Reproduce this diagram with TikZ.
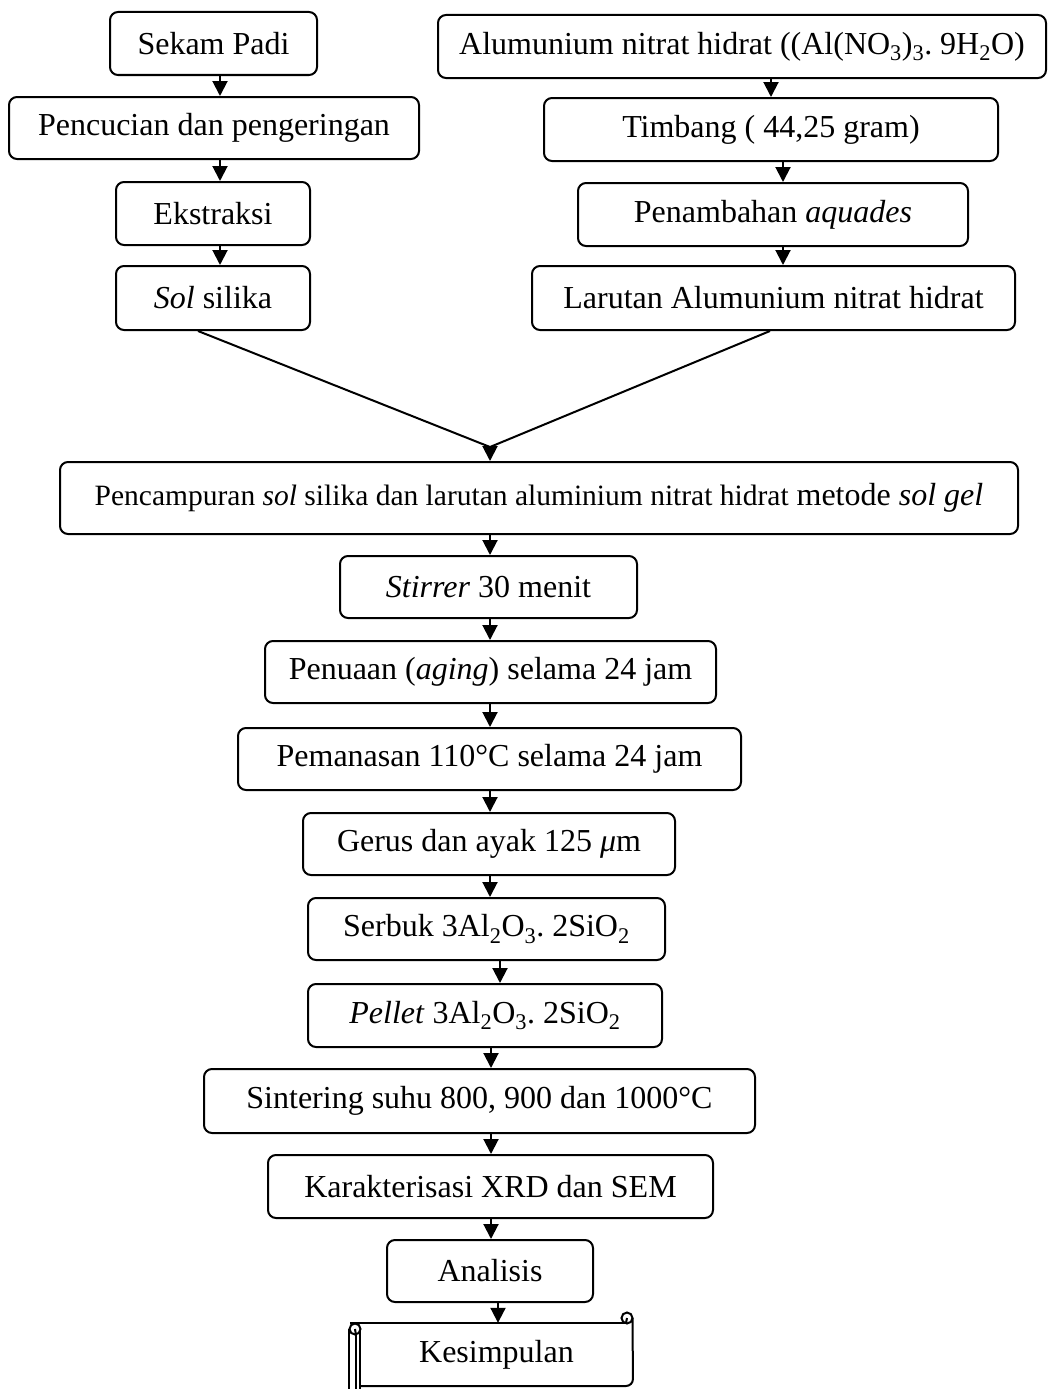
\documentclass[tikz,border=0pt]{standalone}
\usepackage{fontspec}
\setmainfont{Liberation Serif}
\usetikzlibrary{arrows.meta}
\frenchspacing
\newcommand\fsz{\fontsize{32}{38}\selectfont}
\newcommand\fsm{\fontsize{29.5}{35}\selectfont}
\newcommand\sub[1]{\textsubscript{#1}}
\tikzset{
  box/.style={draw, rounded corners=8pt, line width=2pt, inner sep=0pt, align=center, font=\fsz},
  arr/.style={line width=2pt, -{Triangle[width=15pt,length=15pt]}},
  ln/.style={line width=2pt},
}
\begin{document}
\begin{tikzpicture}[x=1pt,y=-1pt]
\useasboundingbox (0,0) rectangle (1049,1389);
% left column
\node[box, minimum width=207, minimum height=63] (sekam) at (213.5,43.5) {Sekam Padi};
\node[box, minimum width=410, minimum height=62] (cuci) at (214,128) {Pencucian dan pengeringan};
\node[box, minimum width=194, minimum height=63] (ekst) at (213,213.5) {Ekstraksi};
\node[box, minimum width=194, minimum height=64] (sol) at (213,298) {\textit{Sol} silika};
% right column
\node[box, minimum width=608, minimum height=63] (alum) at (742,46.5) {Alumunium nitrat hidrat ((Al(NO\sub{3})\sub{3}. 9H\sub{2}O)};
\node[box, minimum width=454, minimum height=63] (timb) at (771,129.5) {Timbang ( 44,25 gram)};
\node[box, minimum width=390, minimum height=63] (aqua) at (773,214.5) {Penambahan \textit{aquades}};
\node[box, minimum width=483, minimum height=64] (laru) at (773.5,298) {Larutan Alumunium nitrat hidrat};
% main column
\node[box, minimum width=958, minimum height=72] (camp) at (539,498) {{\fsm Pencampuran \textit{sol} silika dan larutan aluminium nitrat hidrat} metode \textit{sol gel}};
\node[box, minimum width=297, minimum height=62] (stir) at (488.5,587) {\textit{Stirrer} 30 menit};
\node[box, minimum width=451, minimum height=62] (tua) at (490.5,672) {Penuaan (\textit{aging}) selama 24 jam};
\node[box, minimum width=503, minimum height=62] (panas) at (489.5,759) {Pemanasan 110°C selama 24 jam};
\node[box, minimum width=372, minimum height=62] (gerus) at (489,844) {Gerus dan ayak 125 \textit{μ}m};
\node[box, minimum width=357, minimum height=62] (serb) at (486.5,929) {Serbuk 3Al\sub{2}O\sub{3}. 2SiO\sub{2}};
\node[box, minimum width=354, minimum height=63] (pell) at (485,1015.5) {\textit{Pellet} 3Al\sub{2}O\sub{3}. 2SiO\sub{2}};
\node[box, minimum width=551, minimum height=64] (sint) at (479.5,1101) {Sintering suhu 800, 900 dan 1000°C};
\node[box, minimum width=445, minimum height=63] (kar) at (490.5,1186.5) {Karakterisasi XRD dan SEM};
\node[box, minimum width=206, minimum height=62] (anal) at (490,1271) {Analisis};
\node[inner sep=0pt, minimum width=273, minimum height=63, font=\fsz] (kes) at (496.5,1354.5) {Kesimpulan};
% scroll shape around Kesimpulan
\draw[ln] (350,1323) -- (626,1323);
\draw[ln] (627,1318) circle (5.5);
\draw[ln] (626,1323) -- (627,1318);
\draw[ln, rounded corners=7pt] (632.5,1318) -- (633,1386) -- (360,1386);
\draw[ln] (360,1331) -- (360,1389);
\draw[ln] (356,1335) -- (356,1389);
\draw[ln] (349,1329) -- (349,1389);
\draw[ln] (355,1329) circle (5.5);
\draw[ln] (355,1329) -- (356,1335);
% column coordinates
\coordinate (xa) at (220,0);
\coordinate (xb1) at (771,0);
\coordinate (xb2) at (783,0);
\coordinate (xc) at (490,0);
\coordinate (xc6) at (500,0);
\coordinate (xc7) at (491,0);
\coordinate (xc10) at (498,0);
\coordinate (m) at (490,447);
\coordinate (sl) at (198,0);
\coordinate (lr) at (770,0);
% arrows
\draw[arr] (sekam.south -| xa) -- (cuci.north -| xa);
\draw[arr] (cuci.south -| xa) -- (ekst.north -| xa);
\draw[arr] (ekst.south -| xa) -- (sol.north -| xa);
\draw[arr] (alum.south -| xb1) -- (timb.north -| xb1);
\draw[arr] (timb.south -| xb2) -- (aqua.north -| xb2);
\draw[arr] (aqua.south -| xb2) -- (laru.north -| xb2);
\draw[ln] (sol.south -| sl) -- (m) -- (laru.south -| lr);
\draw[arr] (m) -- (camp.north -| m);
\draw[arr] (camp.south -| xc) -- (stir.north -| xc);
\draw[arr] (stir.south -| xc) -- (tua.north -| xc);
\draw[arr] (tua.south -| xc) -- (panas.north -| xc);
\draw[arr] (panas.south -| xc) -- (gerus.north -| xc);
\draw[arr] (gerus.south -| xc) -- (serb.north -| xc);
\draw[arr] (serb.south -| xc6) -- (pell.north -| xc6);
\draw[arr] (pell.south -| xc7) -- (sint.north -| xc7);
\draw[arr] (sint.south -| xc7) -- (kar.north -| xc7);
\draw[arr] (kar.south -| xc7) -- (anal.north -| xc7);
\draw[arr] (anal.south -| xc10) -- (kes.north -| xc10);
\end{tikzpicture}
\end{document}
